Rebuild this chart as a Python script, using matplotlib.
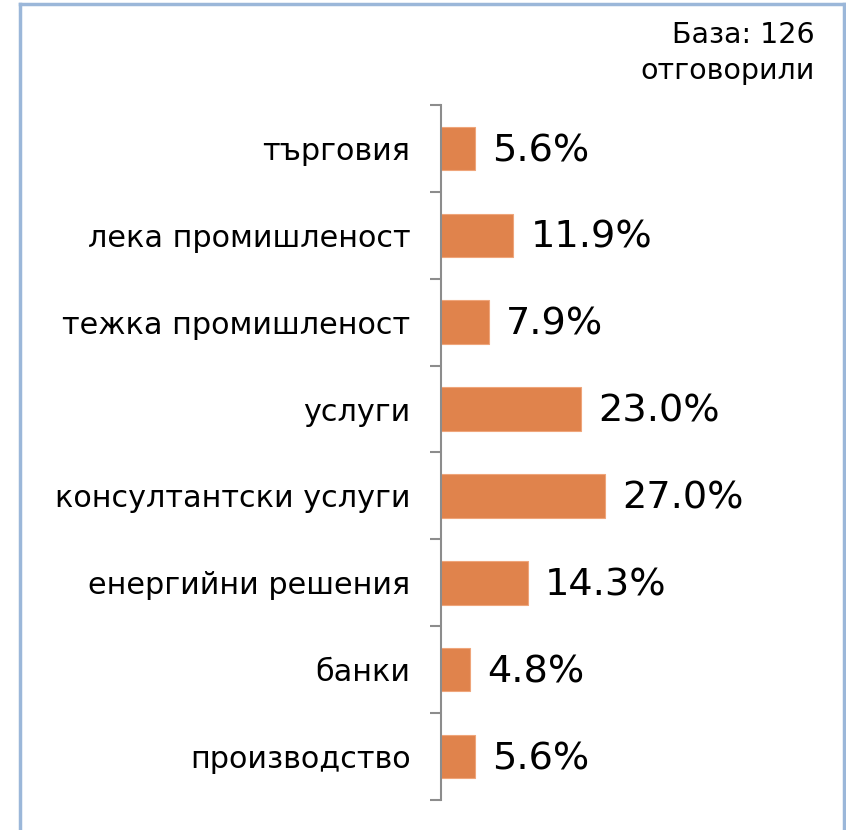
import numpy as np
import matplotlib
matplotlib.use("Agg")
import matplotlib.pyplot as plt
from matplotlib.lines import Line2D

categories = ['търговия', 'лека промишленост', 'тежка промишленост', 'услуги',
              'консултантски услуги', 'енергийни решения', 'банки', 'производство']
values = [5.6, 11.9, 7.9, 23.0, 27.0, 14.3, 4.8, 5.6]
base_text = 'База: 126\nотговорили'

plt.rcParams['font.family'] = ['DejaVu Sans']

W, H = 846, 830
fig = plt.figure(figsize=(W / 100, H / 100), dpi=100)
ax = fig.add_axes([441 / W, 1 - 800 / H, 365 / W, 695 / H])

pos = np.arange(len(categories))
bars = ax.barh(pos, values, height=0.5, color='#E0834C', edgecolor='#EFA57A',
               linewidth=0.8)
ax.set_ylim(len(categories) - 0.5, -0.5)
ax.set_xlim(0, 60)

for rect, v in zip(bars, values):
    ax.text(rect.get_width() + 2.8, rect.get_y() + rect.get_height() / 2 + 0.03,
            '%.1f%%' % v, va='center', ha='left', fontsize=27.5, color='black')

ax.set_yticks(pos)
ax.set_yticklabels(categories, fontsize=21.8)
ax.tick_params(axis='y', which='major', length=0, pad=22)
ax.set_yticks(np.arange(len(categories) + 1) - 0.5, minor=True)
ax.tick_params(axis='y', which='minor', length=8, width=1.5, color='#8C8C8C')
ax.set_xticks([])
for side in ['top', 'right', 'bottom']:
    ax.spines[side].set_visible(False)
ax.spines['left'].set_color('#8C8C8C')
ax.spines['left'].set_linewidth(1.5)

fig.text(815 / W, 1 - 21 / H, base_text, ha='right', va='top', fontsize=20.5,
         linespacing=1.35)

# outer frame
fc = '#9BB7D9'
fig.add_artist(Line2D([20 / W, 20 / W], [0, 1 - 4 / H], color=fc, lw=2.5))
fig.add_artist(Line2D([20 / W, 844 / W], [1 - 4 / H, 1 - 4 / H], color=fc, lw=2.5))
fig.add_artist(Line2D([844 / W, 844 / W], [0, 1 - 4 / H], color=fc, lw=2.5))

fig.savefig('out.png', dpi=100)
